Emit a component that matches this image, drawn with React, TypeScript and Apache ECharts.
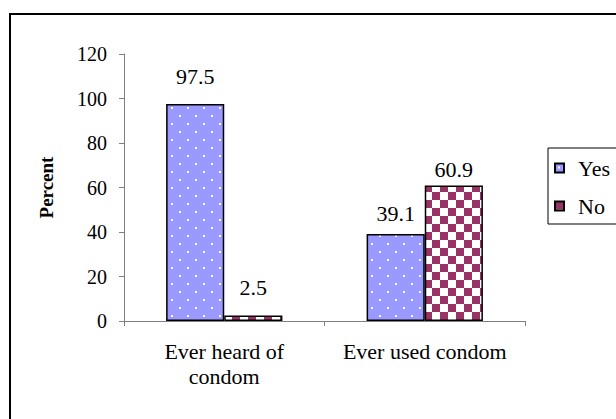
import React, { useEffect, useRef } from "react";
import * as echarts from "echarts";

const categories = ["Ever heard of\ncondom", "Ever used condom"];
const yesValues = [97.5, 39.1];
const noValues = [2.5, 60.9];
const seriesNames = ["Yes", "No"];
const yTicks = { min: 0, max: 120, interval: 20 };

// label gaps above each bar (layout only)
const yesLabelGap = [17, 10];
const noLabelGap = [17, 5];

function makeDots(): HTMLCanvasElement {
  const c = document.createElement("canvas");
  c.width = 16;
  c.height = 16;
  const ctx = c.getContext("2d")!;
  ctx.fillStyle = "#9999FF";
  ctx.fillRect(0, 0, 16, 16);
  ctx.fillStyle = "rgba(255,255,255,0.95)";
  ctx.fillRect(3, 3, 2, 2);
  ctx.fillRect(11, 11, 2, 2);
  return c;
}

function makeChecker(): HTMLCanvasElement {
  const c = document.createElement("canvas");
  c.width = 16;
  c.height = 16;
  const ctx = c.getContext("2d")!;
  ctx.fillStyle = "#ffffff";
  ctx.fillRect(0, 0, 16, 16);
  ctx.fillStyle = "#993366";
  ctx.fillRect(0, 0, 8, 8);
  ctx.fillRect(8, 8, 8, 8);
  return c;
}

export default function App() {
  const ref = useRef<HTMLDivElement>(null);
  useEffect(() => {
    if (!ref.current) return;
    const chart = echarts.init(ref.current, undefined, { renderer: "svg" });
    const font = "Liberation Serif";
    const yesFill: any = { image: makeDots(), repeat: "repeat", imageWidth: 16, imageHeight: 16 };
    const noFill: any = { image: makeChecker(), repeat: "repeat", imageWidth: 16, imageHeight: 16 };
    const label = {
      show: true,
      position: "top" as const,
      distance: 16,
      color: "#000",
      fontFamily: font,
      fontSize: 22,
    };
    chart.setOption({
      animation: false,
      backgroundColor: "#fff",
      textStyle: { fontFamily: font },
      graphic: [
        {
          type: "rect",
          shape: { x: 10, y: 14, width: 620, height: 420 },
          style: { fill: "none", stroke: "#000", lineWidth: 2 },
          z: 10,
          silent: true,
        },
      ],
      grid: { left: 124, top: 54, width: 401, height: 267, containLabel: false },
      legend: {
        orient: "vertical",
        left: 548,
        top: 148,
        data: seriesNames.map((n) => ({ name: n, icon: "rect" })),
        itemWidth: 9,
        itemHeight: 9,
        itemGap: 16,
        padding: [9, 40, 7, 6],
        borderColor: "#000",
        borderWidth: 1,
        textStyle: { fontFamily: font, fontSize: 22, color: "#000", padding: [0, 0, 0, 9] },
      },
      xAxis: {
        type: "category",
        data: categories,
        axisLine: { lineStyle: { color: "#808080", width: 1 } },
        axisTick: { show: true, length: 5, lineStyle: { color: "#808080" } },
        axisLabel: {
          color: "#000",
          fontFamily: font,
          fontSize: 22,
          lineHeight: 25,
          margin: 18,
          interval: 0,
          hideOverlap: false,
        },
      },
      yAxis: {
        type: "value",
        min: yTicks.min,
        max: yTicks.max,
        interval: yTicks.interval,
        name: "Percent",
        nameLocation: "middle",
        nameGap: 68,
        nameRotate: 90,
        nameTextStyle: { fontFamily: font, fontSize: 19, fontWeight: "bold", color: "#000" },
        splitLine: { show: false },
        axisLine: { show: true, lineStyle: { color: "#808080", width: 1 } },
        axisTick: { show: true, length: 5, lineStyle: { color: "#808080" } },
        axisLabel: { color: "#000", fontFamily: font, fontSize: 20, margin: 17 },
      },
      series: [
        {
          name: seriesNames[0],
          type: "bar",
          data: yesValues.map((v, i) => ({ value: v, label: { distance: yesLabelGap[i] } })),
          barGap: "0%",
          barCategoryGap: "42%",
          itemStyle: { color: yesFill, borderColor: "#000", borderWidth: 1.5 },
          label,
        },
        {
          name: seriesNames[1],
          type: "bar",
          data: noValues.map((v, i) => ({ value: v, label: { distance: noLabelGap[i] } })),
          barGap: "0%",
          barCategoryGap: "42%",
          itemStyle: { color: noFill, borderColor: "#000", borderWidth: 1.5 },
          label,
        },
      ],
    });
    return () => chart.dispose();
  }, []);
  return (
    <div
      ref={ref}
      style={{ position: "absolute", left: 0, top: 0, width: 616, height: 419 }}
    />
  );
}
